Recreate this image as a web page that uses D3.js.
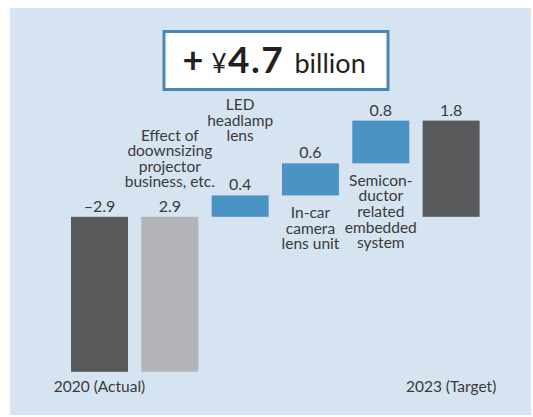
<!DOCTYPE html>
<html>
<head>
<meta charset="utf-8">
<script src="https://cdn.jsdelivr.net/npm/d3@7"></script>
<style>
  body { margin: 0; background: #fff; }
  text { font-family: Lato, "Noto Sans", sans-serif; fill: #3a3a3c; }
</style>
</head>
<body>
<div id="chart"></div>
<script>
// data
var categories = ["2020 (Actual)", "Effect of downsizing", "LED headlamp lens", "In-car camera lens unit", "Semiconductor embedded", "2023 (Target)"];
var values = [-2.9, 2.9, 0.4, 0.6, 0.8, 1.8];
var valueLabels = ["\u20132.9", "2.9", "0.4", "0.6", "0.8", "1.8"];
var labelLines = [
    ["2020 (Actual)"],
    ["Effect of", "doownsizing", "projector", "business, etc."],
    ["LED", "headlamp", "lens"],
    ["In-car", "camera", "lens unit"],
    ["Semicon-", "ductor", "related", "embedded", "system"],
    ["2023 (Target)"]
];
var kinds = ["start", "step", "step", "step", "step", "total"];
var titleText = "4.7";

var W = 533, H = 417;
var svg = d3.select("#chart").append("svg")
    .attr("width", W)
    .attr("height", H);

// panel
svg.append("rect")
    .attr("x", 10).attr("y", 8)
    .attr("width", 521).attr("height", 407)
    .attr("fill", "#d6e3f0");

// waterfall extents
var running = 0;
var bars = values.map(function(v, i) {
    var b;
    if (kinds[i] == "start") { b = {lo: v, hi: 0}; running = v; }
    else if (kinds[i] == "total") { b = {lo: 0, hi: running}; }
    else { b = {lo: Math.min(running, running + v), hi: Math.max(running, running + v)}; running += v; }
    b.i = i;
    return b;
});

var x = d3.scaleBand()
    .domain(categories)
    .range([71, 479.6])
    .paddingInner(0.19)
    .paddingOuter(0);

var y = d3.scaleLinear()
    .domain([-2.9, 1.8])
    .range([371.8, 120.6]);

var colors = ["#58595b", "#b3b4b7", "#4b93c3", "#4b93c3", "#4b93c3", "#58595b"];

svg.selectAll(".bar")
    .data(bars)
    .enter()
    .append("rect")
    .attr("class", "bar")
    .attr("x", d => x(categories[d.i]))
    .attr("y", d => y(d.hi))
    .attr("width", x.bandwidth())
    .attr("height", d => y(d.lo) - y(d.hi))
    .attr("fill", (d, i) => colors[i]);

// value labels
svg.selectAll(".val")
    .data(bars)
    .enter()
    .append("text")
    .attr("class", "val")
    .attr("x", d => x(categories[d.i]) + x.bandwidth() / 2)
    .attr("y", d => y(d.hi) - 5)
    .attr("text-anchor", "middle")
    .attr("font-size", 16)
    .text(d => valueLabels[d.i]);

// category labels
var lh = 15.6;
function labelTop(i) {
    var b = bars[i];
    var n = labelLines[i].length;
    if (i == 0 || i == 5) return 391.5;                 // under the chart
    if (i == 1) return y(b.hi) - 29.5 - (n - 1) * lh;  // above value
    if (i == 2) return y(b.hi) - 54 - (n - 1) * lh;
    return y(b.lo) + 22.5;                               // under the bar
}
labelLines.forEach(function(lines, i) {
    var cx = x(categories[i]) + x.bandwidth() / 2;
    var t = svg.append("text")
        .attr("text-anchor", "middle")
        .attr("font-size", 15.5)
        .attr("x", cx)
        .attr("y", labelTop(i));
    lines.forEach(function(s, k) {
        t.append("tspan")
            .attr("x", cx)
            .attr("dy", k == 0 ? 0 : lh)
            .text(s);
    });
});

// headline box
svg.append("rect")
    .attr("x", 164).attr("y", 31.5)
    .attr("width", 224).attr("height", 58)
    .attr("fill", "#fff")
    .attr("stroke", "#4a87b5")
    .attr("stroke-width", 3);

var title = svg.append("text")
    .attr("y", 72.7)
    .style("fill", "#231f20");
title.append("tspan").attr("x", 182.5).attr("font-size", 36).attr("font-weight", 700).style("fill", "#231f20").text("+");
title.append("tspan").attr("x", 211.5).attr("font-size", 26).style("fill", "#231f20").text("\u00a5");
title.append("tspan").attr("x", 228).attr("font-size", 37).attr("font-weight", 700)
    .attr("letter-spacing", 1.5).style("fill", "#231f20").text(titleText);
title.append("tspan").attr("x", 294.5).attr("font-size", 27).style("fill", "#231f20").text("billion");
</script>
</body>
</html>
